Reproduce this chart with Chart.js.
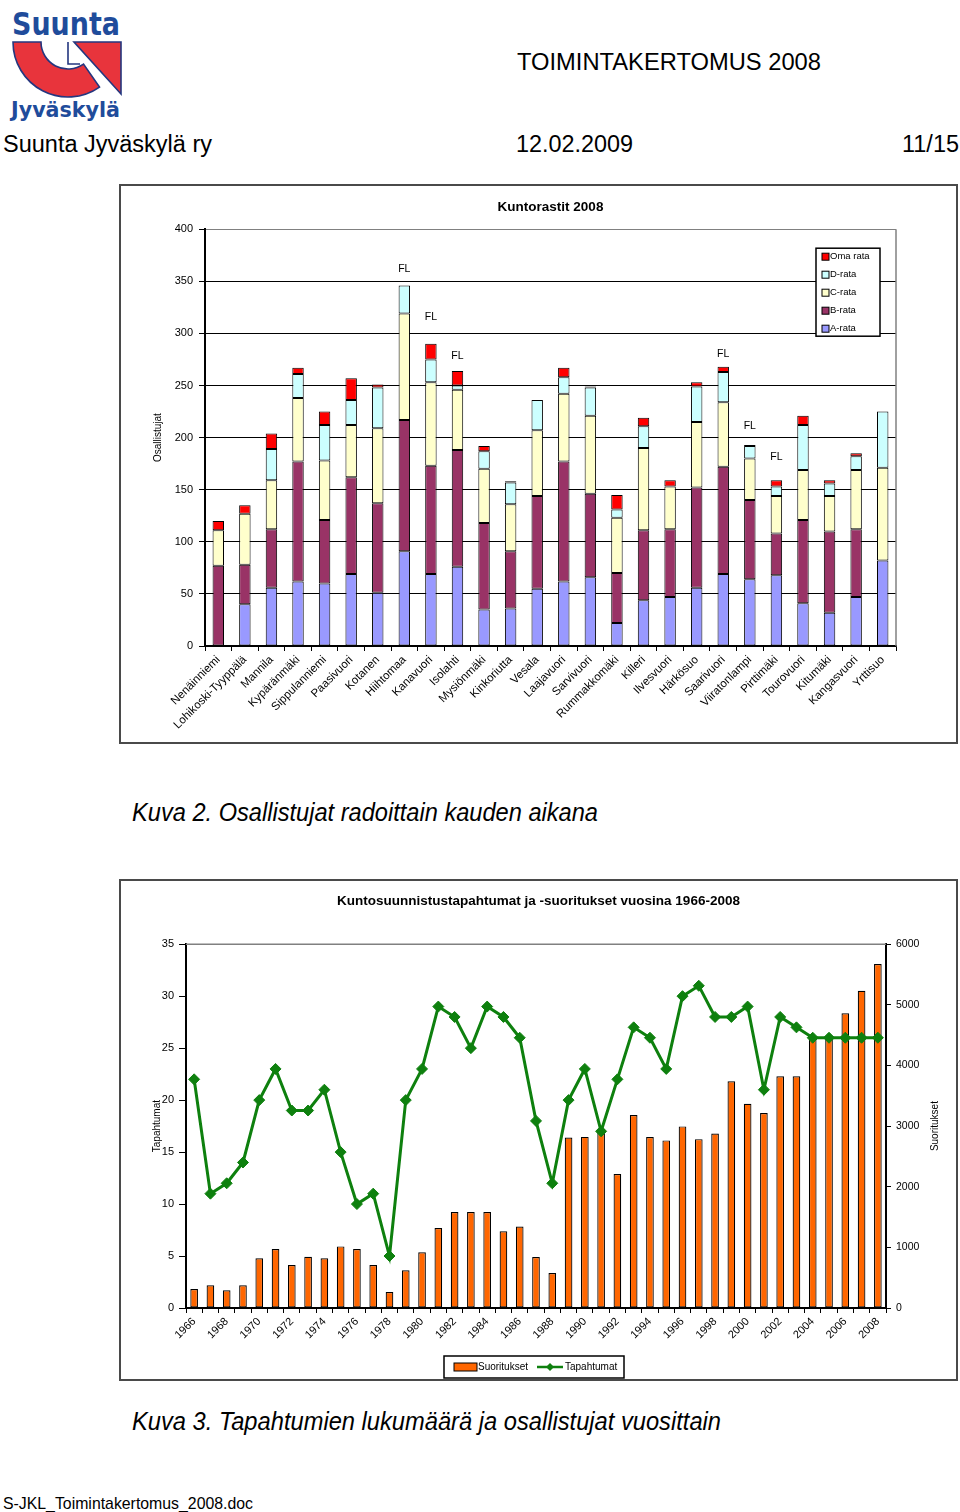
<!DOCTYPE html>
<html><head><meta charset="utf-8">
<script src="https://cdn.jsdelivr.net/npm/chart.js@4.4.1/dist/chart.umd.min.js"></script>
<style>
html,body{margin:0;padding:0;background:#fff;}
body{width:960px;height:1512px;position:relative;overflow:hidden;font-family:'Liberation Sans',Arial,sans-serif;color:#000;}
.t{position:absolute;white-space:nowrap;line-height:1;transform-origin:0 0;}
.box{position:absolute;border:2px solid #4a4a4a;box-sizing:border-box;background:#fff;}
.box canvas{display:block;}
</style></head><body>

<svg style="position:absolute;left:0;top:0" width="135" height="128" viewBox="0 0 135 128">
 <text x="12" y="35" font-family="DejaVu Sans" font-weight="bold" font-size="32" fill="#1f4c9b" textLength="108" lengthAdjust="spacingAndGlyphs">Suunta</text>
 <path d="M13,42 A55,55 0 0 0 99.5,87.1 L83.5,64.1 A27,27 0 0 1 41,42 Z" fill="#e8343c" stroke="#24367f" stroke-width="1.6"/>
 <path d="M74,42 L121,42 L121,94 Z" fill="#e8343c" stroke="#24367f" stroke-width="1.6"/>
 <path d="M68,42 L68,64 L80,64" fill="none" stroke="#24367f" stroke-width="1.6"/>
 <text x="11" y="117" font-family="DejaVu Sans" font-weight="bold" font-size="22" fill="#1f4c9b" textLength="109" lengthAdjust="spacingAndGlyphs">Jyväskylä</text>
</svg>

<div class="t fit" data-w="304" style="left:517px;top:50.5px;font-size:23.5px">TOIMINTAKERTOMUS 2008</div>
<div class="t fit" data-w="209" style="left:3px;top:132.5px;font-size:23.5px">Suunta Jyväskylä ry</div>
<div class="t fit" data-w="117" style="left:516px;top:132.5px;font-size:23.5px">12.02.2009</div>
<div class="t fit" data-w="57" style="left:902px;top:132.5px;font-size:23.5px">11/15</div>

<div class="box" style="left:119px;top:184px;width:839px;height:560px"><canvas id="c1" width="835" height="556"></canvas></div>

<div class="t fit" data-w="466" style="left:132px;top:800px;font-size:25px;font-style:italic">Kuva 2. Osallistujat radoittain kauden aikana</div>

<div class="box" style="left:119px;top:879px;width:839px;height:502px"><canvas id="c2" width="835" height="498"></canvas></div>

<div class="t fit" data-w="589" style="left:132px;top:1409px;font-size:25px;font-style:italic">Kuva 3. Tapahtumien lukumäärä ja osallistujat vuosittain</div>

<div class="t fit" data-w="250" style="left:3px;top:1495px;font-size:17px">S-JKL_Toimintakertomus_2008.doc</div>

<script>
// ---------- Chart 1 data: Kuntorastit 2008 ----------
const courses = ['Nenäinniemi','Lohikoski-Tyyppälä','Mannila','Kypäränmäki','Sippulanniemi','Paasivuori','Kotanen','Hiihtomaa','Kanavuori','Isolahti','Mysiönmäki','Kinkoriutta','Vesala','Laajavuori','Sarvivuori','Rummakkomäki','Killeri','Ilvesvuori','Härkösuo','Saarivuori','Viiratonlampi','Pirttimäki','Tourovuori','Kitumäki','Kangasvuori','Yrttisuo'];
const aRata   = [0,40,56,62,60,69,51,91,69,76,35,36,55,62,66,22,44,47,56,69,64,68,41,32,47,82];
const bRata   = [77,38,56,115,61,93,86,126,104,112,83,55,89,115,80,48,67,65,96,103,76,40,80,78,65,0];
const cRata   = [34,49,47,61,57,50,72,102,80,58,52,45,63,65,75,53,79,41,63,62,40,36,48,34,57,89];
const dRata   = [0,0,30,23,34,24,39,27,22,4,17,21,29,16,27,8,21,0,34,29,12,9,43,12,13,54];
const omaRata = [9,8,15,6,13,21,3,0,15,14,5,1,0,9,1,14,8,6,4,5,1,6,9,3,3,0];
const y1Ticks = [0,50,100,150,200,250,300,350,400];
const flCourses = ['Hiihtomaa','Kanavuori','Isolahti','Saarivuori','Viiratonlampi','Pirttimäki'];
const flValues  = [362,316,278,280,211,181];

// ---------- Chart 2 data: Kuntosuunnistus 1966-2008 ----------
const years = ['1966','1967','1968','1969','1970','1971','1972','1973','1974','1975','1976','1977','1978','1979','1980','1981','1982','1983','1984','1985','1986','1987','1988','1989','1990','1991','1992','1993','1994','1995','1996','1997','1998','1999','2000','2001','2002','2003','2004','2005','2006','2007','2008'];
const suoritukset = [313,374,291,374,819,973,709,846,819,1016, 973,709,264,621,918,1319,1582,1582,1582,1264, 1343,841,577,2810,2822,2950,2209,3184,2819,2764, 2995,2785,2877,3740,3368,3214,3823,3823,4450,4450, 4860,5233,5672];
const tapahtumat = [22,11,12,14,20,23,19,19,21,15, 10,11,5,20,23,29,28,25,29,28, 26,18,12,20,23,17,22,27,26,23, 30,31,28,28,29,21,28,27,26,26, 26,26,26];
const yearTicks = ['1966','1968','1970','1972','1974','1976','1978','1980','1982','1984','1986','1988','1990','1992','1994','1996','1998','2000','2002','2004','2006','2008'];
const leftTicks = [0,5,10,15,20,25,30,35];
const rightTicks = [0,1000,2000,3000,4000,5000,6000];

Chart.defaults.font.family = '"Liberation Sans", Arial, sans-serif';
Chart.defaults.color = '#000';
Chart.defaults.animation = false;

// fit page texts
document.querySelectorAll('.fit').forEach(el => {
  const w = el.getBoundingClientRect().width;
  const tw = +el.dataset.w;
  if (w > 0) el.style.transform = 'scaleX(' + (tw / w) + ')';
});

const axisTitles = {
  id: 'axisTitles',
  afterDraw(chart, args, opts) {
    const ctx = chart.ctx, a = chart.chartArea;
    ctx.save();
    ctx.fillStyle = '#000';
    ctx.font = '10px "Liberation Sans", Arial, sans-serif';
    ctx.textAlign = 'center'; ctx.textBaseline = 'middle';
    (opts.items || []).forEach(it => {
      const x = it.side === 'left' ? a.left - it.off : a.right + it.off;
      ctx.save();
      ctx.translate(x, (a.top + a.bottom) / 2);
      ctx.rotate(-Math.PI / 2);
      ctx.fillText(it.text, 0, 0);
      ctx.restore();
    });
    ctx.restore();
  }
};

const frame1 = {
  id: 'frame1',
  beforeDatasetsDraw(chart) {
    const ctx = chart.ctx, a = chart.chartArea;
    ctx.save();
    ctx.strokeStyle = '#808080'; ctx.lineWidth = 1.5;
    ctx.beginPath(); ctx.moveTo(a.right, a.top); ctx.lineTo(a.right, a.bottom); ctx.stroke();
    ctx.restore();
  }
};

const flPlugin = {
  id: 'flPlugin',
  afterDatasetsDraw(chart) {
    const ctx = chart.ctx, xs = chart.scales.x, ys = chart.scales.y;
    ctx.save();
    ctx.fillStyle = '#000';
    ctx.font = '10.5px "Liberation Sans", Arial, sans-serif';
    ctx.textAlign = 'center'; ctx.textBaseline = 'middle';
    flCourses.forEach((c, i) => {
      const idx = courses.indexOf(c);
      ctx.fillText('FL', xs.getPixelForValue(idx), ys.getPixelForValue(flValues[i]));
    });
    ctx.restore();
  }
};

const legend1 = {
  id: 'legend1',
  afterDraw(chart) {
    const ctx = chart.ctx, a = chart.chartArea;
    const w = 64, h = 88, x = a.right - 16 - w, y = a.top + 19;
    ctx.save();
    ctx.fillStyle = '#fff'; ctx.fillRect(x, y, w, h);
    ctx.strokeStyle = '#000'; ctx.lineWidth = 1.5; ctx.strokeRect(x, y, w, h);
    ctx.font = '9.5px "Liberation Sans", Arial, sans-serif';
    ctx.textBaseline = 'middle'; ctx.textAlign = 'left';
    chart.data.datasets.slice().reverse().forEach((d, i) => {
      const yy = y + 8.5 + i * 18;
      ctx.fillStyle = d.backgroundColor; ctx.fillRect(x + 6, yy - 3.5, 7, 7);
      ctx.strokeStyle = '#000'; ctx.lineWidth = 1; ctx.strokeRect(x + 6, yy - 3.5, 7, 7);
      ctx.fillStyle = '#000'; ctx.fillText(d.label, x + 14, yy);
    });
    ctx.restore();
  }
};

new Chart(document.getElementById('c1'), {
  type: 'bar',
  data: {
    labels: courses,
    datasets: [
      {label: 'A-rata', data: aRata, backgroundColor: '#9999FF'},
      {label: 'B-rata', data: bRata, backgroundColor: '#993366'},
      {label: 'C-rata', data: cRata, backgroundColor: '#FFFFCC'},
      {label: 'D-rata', data: dRata, backgroundColor: '#CCFFFF'},
      {label: 'Oma rata', data: omaRata, backgroundColor: '#FF0000'}
    ].map(d => Object.assign(d, {borderColor: '#000', borderWidth: 1, borderSkipped: false, barPercentage: 0.43, categoryPercentage: 1}))
  },
  options: {
    responsive: false,
    layout: {padding: {top: 1, left: 0, right: 60, bottom: 0}},
    plugins: {
      legend: {display: false},
      tooltip: {enabled: false},
      title: {display: true, fullSize: false, text: 'Kuntorastit 2008', font: {size: 13.5, weight: 'bold'}, color: '#000', padding: {top: 12, bottom: 14}},
      axisTitles: {items: [{side: 'left', off: 47, text: 'Osallistujat'}]}
    },
    scales: {
      x: {
        stacked: true,
        grid: {offset: true, drawOnChartArea: false, tickLength: 5, color: '#000'},
        border: {color: '#000', width: 1.5},
        ticks: {autoSkip: false, minRotation: 45, maxRotation: 45, padding: 2, font: {size: 11.5}, color: '#000'},
        afterFit: s => { s.height = 96; }
      },
      y: {
        stacked: true, min: 0, max: 400,
        afterBuildTicks: s => { s.ticks = y1Ticks.map(v => ({value: v})); },
        ticks: {padding: 6, font: {size: 11}, color: '#000'},
        grid: {color: c => (c.tick && c.tick.value === 400) ? '#808080' : '#000', tickColor: '#000', tickLength: 6, lineWidth: 1},
        border: {color: '#000', width: 2},
        afterFit: s => { s.width = 84; }
      }
    }
  },
  plugins: [axisTitles, frame1, flPlugin, legend1]
});

const frame2 = {
  id: 'frame2',
  beforeDatasetsDraw(chart) {
    const ctx = chart.ctx, a = chart.chartArea;
    ctx.save();
    ctx.strokeStyle = '#808080'; ctx.lineWidth = 1.5;
    ctx.beginPath(); ctx.moveTo(a.left, a.top); ctx.lineTo(a.right, a.top); ctx.stroke();
    ctx.restore();
  }
};

const legend2 = {
  id: 'legend2',
  afterDraw(chart) {
    const ctx = chart.ctx, a = chart.chartArea;
    const w = 180, h = 22, x = (a.left + a.right) / 2 - 2 - w / 2, y = a.bottom + 48;
    const bar = chart.data.datasets.find(d => d.type === 'bar');
    const line = chart.data.datasets.find(d => d.type === 'line');
    ctx.save();
    ctx.fillStyle = '#fff'; ctx.fillRect(x, y, w, h);
    ctx.strokeStyle = '#000'; ctx.lineWidth = 1.5; ctx.strokeRect(x, y, w, h);
    const cy = y + h / 2;
    ctx.fillStyle = bar.backgroundColor; ctx.fillRect(x + 10, cy - 4, 23, 8);
    ctx.strokeStyle = '#000'; ctx.lineWidth = 1; ctx.strokeRect(x + 10, cy - 4, 23, 8);
    ctx.font = '10px "Liberation Sans", Arial, sans-serif';
    ctx.textBaseline = 'middle'; ctx.textAlign = 'left';
    ctx.fillStyle = '#000'; ctx.fillText(bar.label, x + 34, cy);
    ctx.strokeStyle = line.borderColor; ctx.lineWidth = 2.5;
    ctx.beginPath(); ctx.moveTo(x + 93, cy); ctx.lineTo(x + 119, cy); ctx.stroke();
    ctx.fillStyle = line.borderColor;
    ctx.beginPath(); ctx.moveTo(x + 106, cy - 4); ctx.lineTo(x + 110, cy); ctx.lineTo(x + 106, cy + 4); ctx.lineTo(x + 102, cy); ctx.closePath(); ctx.fill();
    ctx.fillStyle = '#000'; ctx.fillText(line.label, x + 121, cy);
    ctx.restore();
  }
};

new Chart(document.getElementById('c2'), {
  data: {
    labels: years,
    datasets: [
      {type: 'line', label: 'Tapahtumat', data: tapahtumat, yAxisID: 'y', order: 0,
       borderColor: '#0e800e', backgroundColor: '#0e800e', borderWidth: 3, tension: 0,
       pointStyle: 'rectRot', pointRadius: 5.5, pointBackgroundColor: '#0e800e', pointBorderColor: '#0e800e', pointBorderWidth: 1},
      {type: 'bar', label: 'Suoritukset', data: suoritukset, yAxisID: 'y1', order: 1,
       backgroundColor: '#FF6600', borderColor: '#000', borderWidth: 1.2, borderSkipped: false,
       barPercentage: 0.47, categoryPercentage: 1}
    ]
  },
  options: {
    responsive: false,
    layout: {padding: {top: 1, left: 0, right: 0, bottom: 0}},
    plugins: {
      legend: {display: false},
      tooltip: {enabled: false},
      title: {display: true, text: 'Kuntosuunnistustapahtumat ja -suoritukset vuosina 1966-2008', font: {size: 13.5, weight: 'bold'}, color: '#000', padding: {top: 11, bottom: 35}},
      axisTitles: {items: [{side: 'left', off: 29, text: 'Tapahtumat'}, {side: 'right', off: 49, text: 'Suoritukset'}]}
    },
    scales: {
      x: {
        offset: true,
        grid: {offset: true, drawOnChartArea: false, tickLength: 5, color: '#000'},
        border: {color: '#000', width: 2},
        ticks: {autoSkip: false, minRotation: 45, maxRotation: 45, padding: 2, font: {size: 11}, color: '#000',
          callback: function (v) { const l = this.getLabelForValue(v); return yearTicks.includes(l) ? l : ''; }},
        afterFit: s => { s.height = 71; }
      },
      y: {
        position: 'left', min: 0, max: 35,
        afterBuildTicks: s => { s.ticks = leftTicks.map(v => ({value: v})); },
        ticks: {padding: 5, font: {size: 11}, color: '#000', callback: v => String(v)},
        grid: {drawOnChartArea: false, tickLength: 7, color: '#000'},
        border: {color: '#000', width: 2},
        afterFit: s => { s.width = 65; }
      },
      y1: {
        position: 'right', min: 0, max: 6000,
        afterBuildTicks: s => { s.ticks = rightTicks.map(v => ({value: v})); },
        ticks: {padding: 5, font: {size: 10.5}, color: '#000', callback: v => String(v)},
        grid: {drawOnChartArea: false, tickLength: 5, color: '#000'},
        border: {color: '#000', width: 2},
        afterFit: s => { s.width = 70; }
      }
    }
  },
  plugins: [axisTitles, frame2, legend2]
});
</script>
</body></html>
